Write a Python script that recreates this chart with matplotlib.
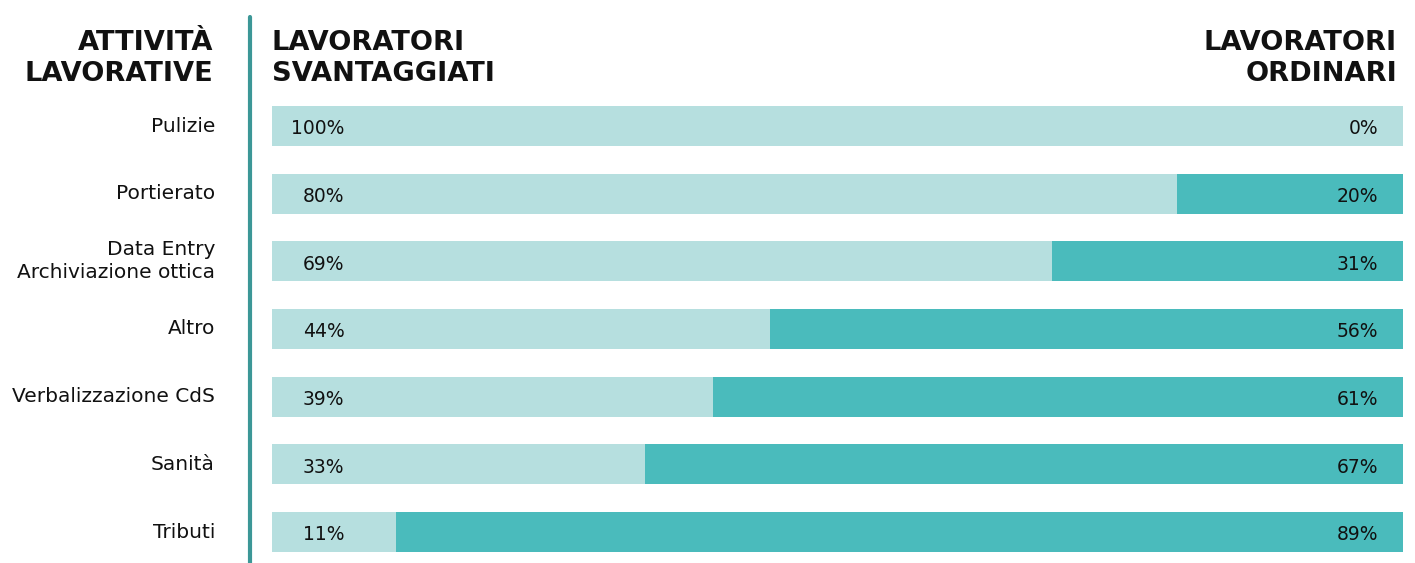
import numpy as np
import matplotlib.pyplot as plt
from matplotlib.transforms import blended_transform_factory

# data
categories = ['Pulizie', 'Portierato', 'Data Entry\nArchiviazione ottica', 'Altro',
              'Verbalizzazione CdS', 'Sanità', 'Tributi']
svantaggiati = [100, 80, 69, 44, 39, 33, 11]
ordinari = [0, 20, 31, 56, 61, 67, 89]

light = '#b6dfdf'
dark = '#4abbbc'
txt = '#111111'

plt.rcParams['font.family'] = ['DejaVu Sans']

W, H = 1415, 563
fig = plt.figure(figsize=(W / 100, H / 100), dpi=100)

pitch = (532 - 126) / 6
top_px = 126 - pitch / 2
ax = fig.add_axes([272 / W, 0, (1403 - 272) / W, (H - top_px) / H])

y = np.arange(len(categories))
hgt = 40 / pitch
ax.barh(y, svantaggiati, height=hgt, color=light, edgecolor='none')
ax.barh(y, ordinari, left=svantaggiati, height=hgt, color=dark, edgecolor='none')

ax.set_xlim(0, 100)
ax.set_ylim(6 + (H - 532) / pitch, -0.5)
for s in ax.spines.values():
    s.set_visible(False)
ax.set_xticks([])
ax.set_yticks([])

# percentage labels
for i in range(len(categories)):
    ax.text(6.4, y[i] + 0.04, f'{svantaggiati[i]}%', ha='right', va='center',
            fontsize=13.5, color=txt)
    ax.text(97.8, y[i] + 0.04, f'{ordinari[i]}%', ha='right', va='center',
            fontsize=13.5, color=txt)

# category labels on the left
tr = blended_transform_factory(fig.transFigure, ax.transData)
for i, c in enumerate(categories):
    ax.text(215 / W, y[i], c, transform=tr, ha='right', va='center',
            fontsize=14.5, color=txt, linespacing=1.25, clip_on=False)

# headers
hy = 1 - 30 / H
hdr = dict(fontsize=19.6, fontweight='bold', color=txt, linespacing=1.25, va='top')
fig.text(213 / W, hy, 'ATTIVITÀ\nLAVORATIVE', ha='right', **hdr)
fig.text(272 / W, hy, 'LAVORATORI\nSVANTAGGIATI', ha='left', **hdr)
fig.text(1397 / W, hy, 'LAVORATORI\nORDINARI', ha='right', **hdr)

# vertical separator
fig.add_artist(plt.Line2D([250 / W, 250 / W], [0, 1 - 17 / H], transform=fig.transFigure,
                          color='#3c9797', linewidth=3, solid_capstyle='round'))

fig.savefig('out.png', dpi=100)
